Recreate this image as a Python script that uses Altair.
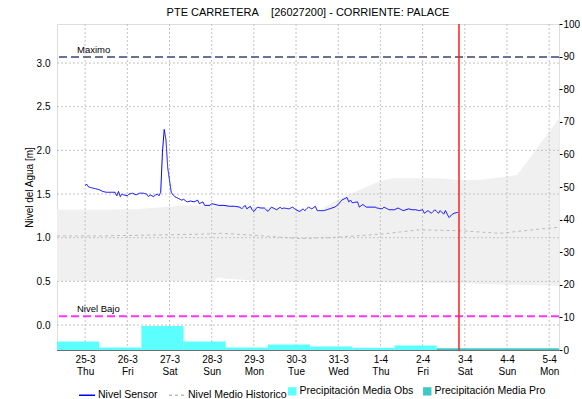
import altair as alt
import pandas as pd

FONT = "Liberation Sans"
TITLE = "PTE CARRETERA\u00a0\u00a0\u00a0 [26027200] - CORRIENTE: PALACE"
ORIGIN = pd.Timestamp("2021-03-25T00:00:00Z")

# Sensor level: hours after 25-3 00:00 and level in metres
sensor_hours = [0, 1, 2, 4, 6, 8, 10, 12, 15, 17, 18, 19, 20, 21, 22, 24, 25, 27, 29, 31,
                33, 35, 36, 37, 38, 39, 40, 41, 42, 43, 44, 45, 46, 47, 48, 49, 50, 51, 52, 53,
                55, 56, 58, 60, 62, 64, 65, 67, 68, 71, 72, 76, 79, 82, 85, 88, 89, 91, 92, 94,
                95, 96, 98, 100, 102, 104, 106, 108, 109, 111, 112, 113, 116, 118, 120, 122, 124, 125, 127, 129,
                131, 132, 133, 136, 139, 142, 144, 146, 148, 149, 150, 151, 152, 155, 156, 158, 160, 162, 165, 166,
                169, 170, 173, 176, 178, 181, 184, 186, 188, 190, 192, 193, 195, 197, 199, 201, 202, 204, 205, 207,
                209, 210, 212]
sensor_level = [1.60, 1.61, 1.58, 1.57, 1.56, 1.55, 1.53, 1.52, 1.52, 1.52, 1.48, 1.53, 1.47, 1.50, 1.49, 1.48, 1.50, 1.51, 1.49, 1.51,
                1.51, 1.50, 1.47, 1.49, 1.48, 1.47, 1.49, 1.50, 1.48, 1.52, 1.98, 2.24, 2.12, 1.80, 1.66, 1.52, 1.49, 1.47, 1.46, 1.45,
                1.43, 1.44, 1.41, 1.42, 1.41, 1.43, 1.39, 1.41, 1.37, 1.37, 1.39, 1.37, 1.37, 1.36, 1.36, 1.35, 1.33, 1.37, 1.33, 1.36,
                1.32, 1.30, 1.35, 1.34, 1.34, 1.30, 1.35, 1.33, 1.32, 1.35, 1.33, 1.34, 1.33, 1.35, 1.32, 1.30, 1.33, 1.31, 1.35, 1.33,
                1.36, 1.31, 1.31, 1.31, 1.33, 1.35, 1.38, 1.43, 1.45, 1.46, 1.41, 1.43, 1.40, 1.41, 1.35, 1.38, 1.35, 1.35, 1.35, 1.34,
                1.33, 1.35, 1.32, 1.32, 1.34, 1.31, 1.33, 1.32, 1.32, 1.31, 1.32, 1.28, 1.31, 1.28, 1.32, 1.28, 1.31, 1.27, 1.31, 1.23,
                1.27, 1.28, 1.29]

# Historical range (max / min) of the level
hist_hours = [-16, 12, 30, 44, 56, 72, 76, 80, 88, 100, 120, 128, 132, 145, 168, 175, 200, 215, 224, 240, 246, 270]
hist_max = [1.32, 1.32, 1.33, 1.35, 1.37, 1.36, 1.36, 1.36, 1.36, 1.35, 1.33, 1.32, 1.30, 1.45, 1.65, 1.68, 1.68, 1.66, 1.66, 1.70, 1.72, 2.38]
hist_min = [0.50, 0.50, 0.50, 0.50, 0.50, 0.50, 0.54, 0.53, 0.52, 0.50, 0.50, 0.50, 0.50, 0.50, 0.49, 0.49, 0.48, 0.48, 0.47, 0.46, 0.46, 0.45]

# Historical mean level
median_hours = [-16, 8, 37, 65, 78, 94, 122, 139, 168, 190, 213, 236, 259, 270]
median_level = [1.02, 1.02, 1.03, 1.04, 1.05, 1.03, 0.99, 1.00, 1.04, 1.09, 1.08, 1.05, 1.10, 1.12]

# Daily precipitation (08:00 to 08:00), observed and forecast
rain_obs_start = [-16, 8, 32, 56, 80, 104, 128, 152, 176]
rain_obs_mm = [2.6, 0.75, 7.4, 2.6, 0.8, 1.7, 1.1, 0.7, 1.4]
rain_pro_start = [200, 224, 248]
rain_pro_mm = [0.5, 0.5, 0.5]

nivel_maximo = 3.07
nivel_bajo = 0.10
now_hour = 212.7
view_hours = [-16, 269.6]
day_ticks = list(range(0, 265, 24))
level_ticks = [0.0, 0.5, 1.0, 1.5, 2.0, 2.5, 3.0]
rain_ticks = list(range(0, 101, 10))
level_domain = [-0.286, 3.447]
rain_domain = [0, 100]


def iso(h):
    return (ORIGIN + pd.Timedelta(hours=h)).strftime("%Y-%m-%dT%H:%M:%SZ")


def ms(h):
    return int((ORIGIN + pd.Timedelta(hours=h)).timestamp() * 1000)


x_scale = alt.Scale(type="utc", domain=[ms(view_hours[0]), ms(view_hours[1])])
x_axis = alt.Axis(
    values=[ms(h) for h in day_ticks],
    labelExpr="[utcFormat(datum.value, '%-d-%-m'), utcFormat(datum.value, '%a')]",
    title=None, grid=False, ticks=False, domain=True, domainColor="#000000",
    domainDash=[1, 1], labelPadding=4, labelFontSize=10, labelLineHeight=12,
    labelOverlap=False, labelFont=FONT, labelColor="#000000",
)


def X(field):
    return alt.X(f"{field}:T", scale=x_scale, axis=x_axis)


yl_scale = alt.Scale(domain=level_domain, nice=False, zero=False)
yr_scale = alt.Scale(domain=rain_domain, nice=False, zero=False)
left_axis = alt.Axis(
    orient="left", values=level_ticks, format=".1f", title="Nivel del Agua [m]",
    grid=False, domain=False, ticks=False, labelPadding=7, labelFontSize=10,
    labelFont=FONT, labelColor="#000000", titleFont=FONT, titleFontSize=10,
    titleFontWeight="normal", titleColor="#000000", titlePadding=2,
)
right_axis = alt.Axis(
    orient="right", values=rain_ticks, title=None, grid=False, domain=False,
    ticks=True, tickSize=3, tickColor="#000000", labelPadding=1, labelFontSize=10,
    labelFont=FONT, labelColor="#000000",
)

band_df = pd.DataFrame({"t": [iso(h) for h in hist_hours], "hi": hist_max, "lo": hist_min})
sensor_df = pd.DataFrame({"t": [iso(h) for h in sensor_hours], "v": sensor_level, "serie": "Nivel Sensor"})
median_df = pd.DataFrame({"t": [iso(h) for h in median_hours], "v": median_level,
                          "serie": "Nivel Medio Historico"})
obs_df = pd.DataFrame({"t0": [iso(h) for h in rain_obs_start], "t1": [iso(h + 24) for h in rain_obs_start],
                       "mm": rain_obs_mm, "serie": "Precipitación Media Obs"})
pro_df = pd.DataFrame({"t0": [iso(h) for h in rain_pro_start], "t1": [iso(h + 24) for h in rain_pro_start],
                       "mm": rain_pro_mm, "serie": "Precipitación Media Pro"})
limits_df = pd.DataFrame({"t": [iso(view_hours[0])] * 2, "v": [nivel_maximo, nivel_bajo],
                          "label": ["Maximo", "Nivel Bajo"]})
now_df = pd.DataFrame({"t": [iso(now_hour)]})
days_df = pd.DataFrame({"t": [iso(h) for h in day_ticks]})
levels_df = pd.DataFrame({"v": level_ticks})

line_names = ["Nivel Sensor", "Nivel Medio Historico"]
rain_names = ["Precipitación Media Obs", "Precipitación Media Pro"]
line_legend = alt.Legend(
    orient="none", legendX=21, legendY=362, direction="horizontal", title=None,
    symbolType="stroke", symbolSize=256, symbolStrokeWidth=1.5, labelFont=FONT,
    labelFontSize=10.5, labelColor="#000000", columnPadding=8, labelOffset=2,
)
rain_legend = alt.Legend(
    orient="none", legendX=230, legendY=362, direction="horizontal", title=None,
    symbolType="square", symbolSize=70, symbolStrokeWidth=0, labelFont=FONT,
    labelFontSize=10.5, labelColor="#000000", columnPadding=8, labelOffset=2,
)
stroke_enc = alt.Stroke("serie:N", scale=alt.Scale(domain=line_names, range=["#0000FF", "#BDBDBD"]),
                        legend=line_legend)
dash_enc = alt.StrokeDash("serie:N", scale=alt.Scale(domain=line_names, range=[[1, 0], [3, 3]]),
                          legend=line_legend)
fill_enc = alt.Fill("serie:N", scale=alt.Scale(domain=rain_names, range=["#5CFFFF", "#40C8C8"]),
                    legend=rain_legend)

# Background: historical band and grid
band = alt.Chart(band_df).mark_area(color="#F0F0F0").encode(
    x=X("t"), y=alt.Y("hi:Q", scale=yl_scale, axis=left_axis), y2="lo:Q")
grid_v = alt.Chart(days_df).mark_rule(stroke="#C4C4C4", strokeDash=[2, 2], strokeWidth=1).encode(x=X("t"))
grid_h = alt.Chart(levels_df).mark_rule(stroke="#C4C4C4", strokeDash=[2, 2], strokeWidth=1).encode(
    y=alt.Y("v:Q", scale=yl_scale, axis=left_axis))
background = alt.layer(band, grid_v, grid_h)

# Precipitation bars on the right axis
obs = alt.Chart(obs_df).mark_rect(clip=True).encode(
    x=X("t0"), x2="t1:T", y=alt.Y("mm:Q", scale=yr_scale, axis=right_axis), y2=alt.datum(0), fill=fill_enc)
pro = alt.Chart(pro_df).mark_rect(clip=True).encode(
    x=X("t0"), x2="t1:T", y=alt.Y("mm:Q", scale=yr_scale, axis=right_axis), y2=alt.datum(0), fill=fill_enc)
rain = alt.layer(obs, pro)

# Foreground: level series, thresholds and current time
median = alt.Chart(median_df).mark_line(strokeWidth=1).encode(
    x=X("t"), y=alt.Y("v:Q", scale=yl_scale, axis=None), stroke=stroke_enc, strokeDash=dash_enc)
sensor = alt.Chart(sensor_df).mark_line(strokeWidth=1).encode(
    x=X("t"), y=alt.Y("v:Q", scale=yl_scale, axis=None), stroke=stroke_enc, strokeDash=dash_enc)
maximo = alt.Chart(limits_df.iloc[[0]]).mark_rule(stroke="#6B7394", strokeWidth=2, strokeDash=[8, 4]).encode(
    y=alt.Y("v:Q", scale=yl_scale, axis=None))
bajo = alt.Chart(limits_df.iloc[[1]]).mark_rule(stroke="#FF33FF", strokeWidth=2, strokeDash=[8, 4]).encode(
    y=alt.Y("v:Q", scale=yl_scale, axis=None))
labels = alt.Chart(limits_df).mark_text(align="left", baseline="bottom", dx=20, dy=-2, font=FONT,
                                        fontSize=9.5, color="#000000").encode(
    x=X("t"), y=alt.Y("v:Q", scale=yl_scale, axis=None), text="label:N")
now = alt.Chart(now_df).mark_rule(stroke="#FF2020", strokeWidth=1.5).encode(x=X("t"))
foreground = alt.layer(median, sensor, maximo, bajo, labels, now)

chart = alt.layer(background, rain, foreground).resolve_scale(y="independent").properties(
    width=502, height=326,
    title=alt.TitleParams(TITLE, font=FONT, fontSize=11, fontWeight="normal", color="#000000",
                          anchor="middle", offset=1),
    autosize=alt.AutoSizeParams(type="none"),
    padding={"left": 57, "top": 24, "right": 23, "bottom": 49},
).configure_view(stroke="#8A8A8A", strokeWidth=1).configure(background="#FFFFFF")

chart.save("out.html", embed_options={"renderer": "svg", "actions": False})
